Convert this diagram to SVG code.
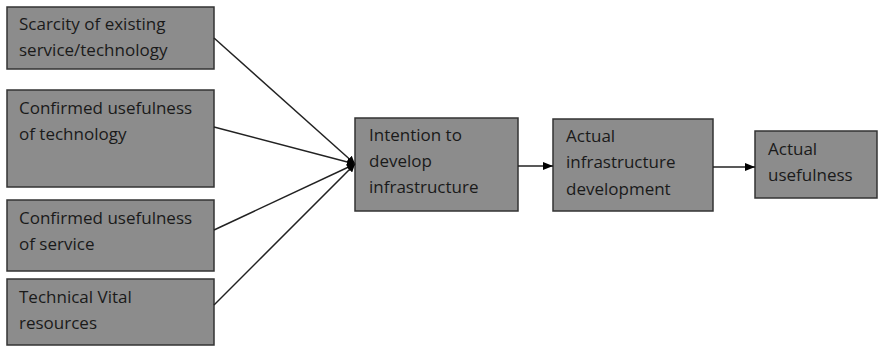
<svg xmlns="http://www.w3.org/2000/svg" width="878" height="346" viewBox="0 0 878 346">
<defs>
<style>
.box{fill:#8c8c8c;stroke:#333;stroke-width:1.5}
.t{font-family:"Open Sans","Liberation Sans",sans-serif;font-size:17px;fill:#1a1a1a}
.c{stroke:#222;stroke-width:1.5;fill:none}
</style>
<marker id="ah" viewBox="0 0 10 10" refX="10" refY="5" markerWidth="8" markerHeight="8" markerUnits="userSpaceOnUse" orient="auto">
<path d="M0,0 L10,5 L0,10 z" fill="#000"/>
</marker>
<marker id="ah2" viewBox="0 0 10 10" refX="10" refY="5" markerWidth="10" markerHeight="10" markerUnits="userSpaceOnUse" orient="auto">
<path d="M0,1 L10,5 L0,9 z" fill="#000"/>
</marker>
</defs>
<g id="n1"><rect class="box" x="7" y="7" width="207" height="62"/><text class="t" x="19" y="30">Scarcity of existing</text><text class="t" x="19" y="56">service/technology</text></g>
<g id="n2"><rect class="box" x="7" y="90" width="207" height="97"/><text class="t" x="19" y="114">Confirmed usefulness</text><text class="t" x="19" y="140">of technology</text></g>
<g id="n3"><rect class="box" x="7" y="200" width="207" height="71"/><text class="t" x="19" y="224">Confirmed usefulness</text><text class="t" x="19" y="250">of service</text></g>
<g id="n4"><rect class="box" x="7" y="279" width="207" height="66"/><text class="t" x="19" y="303">Technical Vital</text><text class="t" x="19" y="329">resources</text></g>
<g id="n5"><rect class="box" x="355" y="118" width="163" height="93"/><text class="t" x="369" y="141">Intention to</text><text class="t" x="369" y="167">develop</text><text class="t" x="369" y="193">infrastructure</text></g>
<g id="n6"><rect class="box" x="553" y="119" width="160" height="92"/><text class="t" x="566" y="142">Actual</text><text class="t" x="566" y="168">infrastructure</text><text class="t" x="566" y="195">development</text></g>
<g id="n7"><rect class="box" x="755" y="131" width="122" height="67"/><text class="t" x="768" y="155">Actual</text><text class="t" x="768" y="181">usefulness</text></g>
<g id="connectors">
<line class="c" x1="214" y1="38" x2="355" y2="164" marker-end="url(#ah)"/>
<line class="c" x1="214" y1="127" x2="355" y2="164" marker-end="url(#ah)"/>
<line class="c" x1="214" y1="230" x2="355" y2="164" marker-end="url(#ah)"/>
<line class="c" x1="214" y1="305" x2="355" y2="164" marker-end="url(#ah)"/>
<line class="c" x1="518" y1="166" x2="553" y2="166" marker-end="url(#ah2)"/>
<line class="c" x1="713" y1="167" x2="755" y2="167" marker-end="url(#ah2)"/>
</g>
</svg>
